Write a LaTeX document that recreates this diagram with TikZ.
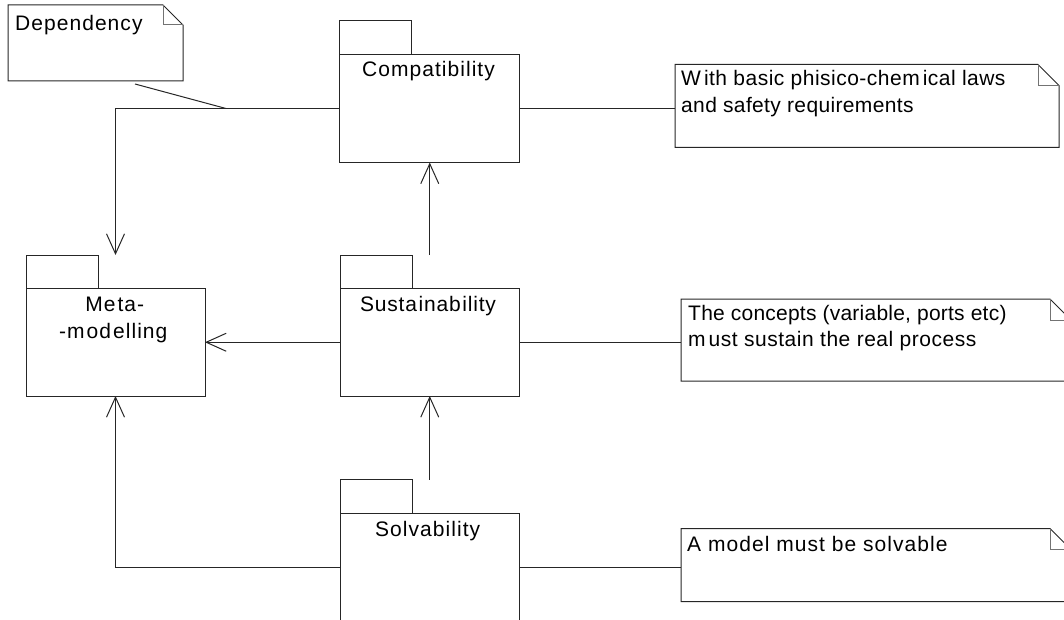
\documentclass[tikz,border=0pt]{standalone}
\usepackage{fontspec}
\setmainfont{Liberation Sans}[LetterSpace=5]
\usetikzlibrary{arrows.meta}

% note outline with a folded corner
\newcommand\notefold[2]{%
  \draw[ln] (#1.north west) -- ([xshift=-#2]#1.north east)
    -- ([yshift=-#2]#1.north east) -- (#1.south east) -- (#1.south west) -- cycle;
  \draw[foldln] ([xshift=-#2]#1.north east) |- ([yshift=-#2]#1.north east);
}
% package tab above a package body
\newcommand\pkgtab[1]{%
  \draw[ln] (#1.north west) -- ++(0,-33.5) -- ++(72,0) -- ++(0,33.5);
}
% tracking for a single line of text
\newcommand\track[2]{{\addfontfeature{LetterSpace=#1}#2}}

\begin{document}
\begin{tikzpicture}[x=1pt,y=-1pt,
  ln/.style={draw=black!85, line width=1pt},
  foldln/.style={draw=black!55, line width=1pt},
  pkgbody/.style={ln, rectangle, inner sep=0pt, outer sep=0pt, anchor=north west},
  notebox/.style={rectangle, inner sep=0pt, outer sep=0pt, anchor=north west},
  lbl/.style={font=\fontsize{21}{27}\selectfont, inner sep=0pt, text=black},
  arr/.style={-{Straight Barb[length=20pt,width=18pt]}}
]
\useasboundingbox (0,0) rectangle (1064,620);
\clip (0,0) rectangle (1064,620);

% packages
\node[pkgbody, minimum width=180pt, minimum height=108pt] (comp) at (339.5,54.5) {};
\node[pkgbody, minimum width=179pt, minimum height=107.5pt] (meta) at (26,288.5) {};
\node[pkgbody, minimum width=179.5pt, minimum height=107.5pt] (sust) at (340,288.5) {};
\node[pkgbody, minimum width=179.5pt, minimum height=130pt] (solv) at (340,513) {};
\pkgtab{comp}
\pkgtab{meta}
\pkgtab{sust}
\pkgtab{solv}

\node[lbl, anchor=base] (comptext) at (428.5,76.7) {Compatibility};
\node[lbl, anchor=base] (metatext1) at (114.7,311) {Me\kern2pt ta-};
\node[lbl, anchor=base] (metatext2) at (113.3,338.3) {-m\kern2pt od\kern2pt elling};
\node[lbl, anchor=base] (susttext) at (428,311) {\track{4}{Susta\kern1.5pt inab\kern1.5pt ility}};
\node[lbl, anchor=base] (solvtext) at (427.7,536) {Solvability};

% notes
\node[notebox, minimum width=175pt, minimum height=76pt] (depnote) at (8,5) {};
\node[notebox, minimum width=384pt, minimum height=83pt] (n1) at (675,64.5) {};
\node[notebox, minimum width=390pt, minimum height=82pt] (n2) at (681,299) {};
\node[notebox, minimum width=390pt, minimum height=73pt] (n3) at (681,528.5) {};
\notefold{depnote}{20pt}
\notefold{n1}{21pt}
\notefold{n2}{21pt}
\notefold{n3}{21pt}

\node[lbl, anchor=base west] (deptext) at (15,31) {Dependency};
\node[lbl, anchor=base west] (n1a) at (681,85.7) {\track{2.3}{W\kern3pt ith basic phisico-chem\kern3pt ical laws}};
\node[lbl, anchor=base west] (n1b) at (681,112.7) {\track{1.7}{and safety requirements}};
\node[lbl, anchor=base west] (n2a) at (688,320.7) {\track{1.1}{The concepts (variable, ports etc)}};
\node[lbl, anchor=base west] (n2b) at (688,346.7) {\track{2.5}{m\kern3pt ust sustain the real process}};
\node[lbl, anchor=base west] (n3a) at (687,551.7) {A model must be solvable};

% dependencies
\coordinate (depA) at (135,84);
\coordinate (depB) at (226,108.5);
\draw[ln] (depA) -- (depB);
\draw[ln, arr] (comp.west) -| ([yshift=33.5pt]meta.north);
\draw[ln, arr] (sust.west) -- (meta.east);
\draw[ln, arr] ([yshift=33.5pt]sust.north) -- (sust.north |- comp.south);
\draw[ln, arr] ([yshift=33.5pt]solv.north) -- (sust.south);
\coordinate (solvL) at ([yshift=-54pt]solv.north west);
\coordinate (solvR) at ([yshift=-54pt]solv.north east);
\draw[ln, arr] (solvL) -| (meta.south);

% note anchors
\draw[ln] (comp.east) -- (comp.east -| n1.west);
\draw[ln] (sust.east) -- (sust.east -| n2.west);
\draw[ln] (solvR) -- (solvR -| n3.west);
\end{tikzpicture}
\end{document}
